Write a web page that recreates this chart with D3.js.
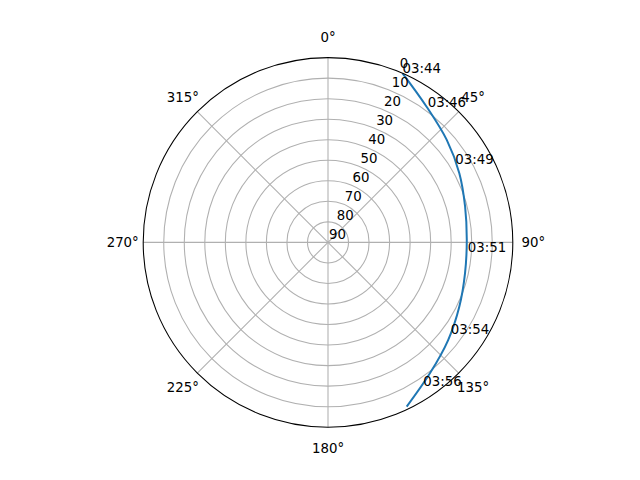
<!DOCTYPE html>
<html>
<head>
<meta charset="utf-8">
<script src="https://cdn.jsdelivr.net/npm/d3@7"></script>
<style>
  body { margin: 0; background: #fff; }
  text { font-family: "DejaVu Sans", sans-serif; font-size: 13.33px; fill: #000; }
</style>
</head>
<body>
<svg id="chart"></svg>
<script>
// azimuth ticks (degrees, clockwise from north)
const thetaTicks = [0, 45, 90, 135, 180, 225, 270, 315];
const thetaLabels = ["0°", "45°", "90°", "135°", "180°", "225°", "270°", "315°"];

// elevation ticks (0 at the rim, 90 at the centre)
const rTicks = [0, 10, 20, 30, 40, 50, 60, 70, 80, 90];

// satellite track
const trackAz = [23.8, 36.0, 49.2, 62.2, 75.4, 89.0, 102.7, 116.1, 129.1, 142.1, 154.4];
const trackEl = [0.0, 8.3, 13.6, 17.7, 21.0, 22.4, 21.6, 18.8, 14.6, 9.2, 1.3];

// time labels along the pass
const passTimes = ["03:44", "03:46", "03:49", "03:51", "03:54", "03:56"];
const passAz = [23.8, 36.3, 58.4, 93.9, 126.8, 146.4];
const passEl = [0.0, 8.0, 17.2, 21.8, 15.3, 6.2];

const width = 640;
const height = 480;
const cx = 328;
const cy = 242.4;
const radius = 184.8;
const rad = d => d * Math.PI / 180;

const r = d3.scaleLinear().domain([0, 90]).range([radius, 0]);

const svg = d3.select("#chart")
  .attr("width", width)
  .attr("height", height);

svg.append("rect")
  .attr("width", width)
  .attr("height", height)
  .attr("fill", "#fff");

const g = svg.append("g")
  .attr("transform", `translate(${cx},${cy})`);

// ring grid
g.append("g")
  .selectAll("circle")
  .data(rTicks.filter(v => v > 0 && v < 90))
  .join("circle")
    .attr("r", d => r(d))
    .attr("fill", "none")
    .attr("stroke", "#b0b0b0")
    .attr("stroke-width", 1.07);

// spokes
g.append("g")
  .selectAll("line")
  .data(thetaTicks)
  .join("line")
    .attr("x1", 0)
    .attr("y1", 0)
    .attr("x2", d => radius * Math.sin(rad(d)))
    .attr("y2", d => -radius * Math.cos(rad(d)))
    .attr("stroke", "#b0b0b0")
    .attr("stroke-width", 1.07);

// the track
const line = d3.lineRadial()
  .angle((d, i) => rad(trackAz[i]))
  .radius((d, i) => r(trackEl[i]))
  .curve(d3.curveCatmullRom);

g.append("path")
  .datum(trackAz)
  .attr("d", line)
  .attr("fill", "none")
  .attr("stroke", "#1f77b4")
  .attr("stroke-width", 2);

// outer spine
g.append("circle")
  .attr("r", radius)
  .attr("fill", "none")
  .attr("stroke", "#000")
  .attr("stroke-width", 1.07);

// azimuth labels
g.append("g")
  .selectAll("text")
  .data(thetaTicks)
  .join("text")
    .attr("x", d => (radius + 20.5) * Math.sin(rad(d)))
    .attr("y", d => -(radius + 20.5) * Math.cos(rad(d)) + 4.9)
    .attr("text-anchor", "middle")
    .text((d, i) => thetaLabels[i]);

// elevation labels along 22.5°
g.append("g")
  .selectAll("text")
  .data(rTicks)
  .join("text")
    .attr("x", d => r(d) * Math.sin(rad(22.5)) + 1)
    .attr("y", d => -r(d) * Math.cos(rad(22.5)) - 3.5)
    .text(d => d);

// time labels
g.append("g")
  .selectAll("text")
  .data(passTimes)
  .join("text")
    .attr("x", (d, i) => r(passEl[i]) * Math.sin(rad(passAz[i])))
    .attr("y", (d, i) => -r(passEl[i]) * Math.cos(rad(passAz[i])))
    .text(d => d);
</script>
</body>
</html>
